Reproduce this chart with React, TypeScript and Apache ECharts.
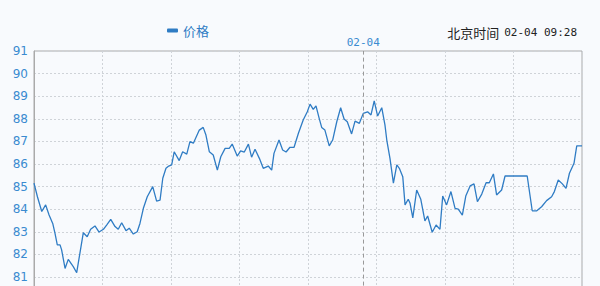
import React, { useEffect, useRef } from "react";
import * as echarts from "echarts";

// minutes since the first point (8 sections of 30)
const minutes = [
  0, 1.5, 3.4, 5.1, 6.6, 8.2, 9.2, 10.2, 11.4, 12.1, 13.6, 15.0, 17.2, 18.7, 20.1, 21.6, 23.3, 24.8, 26.7, 28.5,
  30.4, 31.8, 33.6, 35.5, 36.9, 38.4, 40.3, 41.7, 43.5, 45.2, 46.4, 47.9, 49.6, 52.0, 53.7, 55.2, 56.4, 57.8, 59.0, 60.3,
  61.4, 63.6, 65.1, 66.9, 68.3, 69.8, 72.4, 74.1, 75.3, 76.8, 78.5, 80.3, 81.8, 83.7, 85.5, 86.8, 89.0, 90.5, 92.1, 93.9,
  95.3, 96.8, 98.7, 100.4, 102.6, 104.1, 105.1, 107.3, 108.9, 110.4, 112.1, 113.9, 115.8, 117.9, 119.7, 120.9, 122.3, 123.5, 124.9, 126.0,
  127.4, 129.3, 130.8, 132.6, 134.3, 135.8, 137.2, 139.1, 140.6, 142.5, 144.2, 146.1, 147.6, 149.0, 150.5, 152.3, 153.7, 154.5, 155.9, 157.4,
  158.9, 160.0, 161.5, 162.5, 163.9, 164.7, 165.9, 167.6, 169.4, 171.2, 172.4, 174.4, 176.1, 177.8, 179.0, 180.7, 182.6, 184.4, 185.8, 187.6,
  189.1, 191.0, 192.7, 194.2, 196.1, 198.0, 199.4, 201.2, 202.6, 204.8, 206.3, 211.4, 216.0, 218.2, 220.2, 222.3, 224.5, 226.7, 227.9, 229.6,
  231.4, 233.0, 234.5, 236.5, 237.7, 240,
];

const prices = [
  85.15, 84.55, 83.9, 84.19, 83.74, 83.37, 82.93, 82.42, 82.42, 82.2, 81.38, 81.78, 81.46, 81.19, 82.05, 82.96, 82.78, 83.11, 83.26, 82.99,
  83.11, 83.3, 83.55, 83.23, 83.11, 83.4, 83.05, 83.16, 82.9, 83.0, 83.37, 84.04, 84.55, 85.0, 84.36, 84.4, 85.37, 85.81, 85.91, 85.96,
  86.54, 86.15, 86.54, 86.44, 86.99, 86.92, 87.5, 87.62, 87.28, 86.54, 86.4, 85.73, 86.32, 86.69, 86.69, 86.88, 86.35, 86.58, 86.53, 86.88,
  86.3, 86.65, 86.25, 85.81, 85.91, 85.73, 86.47, 87.06, 86.62, 86.53, 86.74, 86.74, 87.36, 87.95, 88.31, 88.65, 88.42, 88.57, 88.02, 87.62,
  87.5, 86.8, 87.06, 87.87, 88.49, 87.99, 87.87, 87.33, 87.9, 87.8, 88.24, 88.31, 88.17, 88.79, 88.12, 88.49, 87.73, 87.06, 86.25, 85.15,
  85.96, 85.81, 85.44, 84.19, 84.44, 84.26, 83.62, 84.85, 84.44, 83.48, 83.7, 82.98, 83.3, 83.11, 84.58, 84.19, 84.78, 84.04, 84.0, 83.74,
  84.58, 85.03, 85.12, 84.33, 84.67, 85.17, 85.17, 85.56, 84.63, 84.85, 85.47, 85.47, 85.47, 83.93, 83.93, 84.11, 84.38, 84.55, 84.78, 85.29,
  85.12, 84.92, 85.59, 86.03, 86.8, 86.8,
];

const dayBreak = 144.2;
const dayLabel = "02-04";
const seriesName = "价格";
const clockText = "02-04 09:28";

export default function App() {
  const ref = useRef<HTMLDivElement>(null);
  useEffect(() => {
    if (!ref.current) return;
    const chart = echarts.init(ref.current, undefined, { renderer: "svg" });
    const data = minutes.map((m, i) => [m, prices[i]]);
    chart.setOption({
      animation: false,
      backgroundColor: "#f8fafd",
      title: {
        text: "{a|北京时间} {b|" + clockText + "}",
        right: 18,
        top: 18,
        textStyle: {
          fontWeight: "normal",
          rich: {
            a: { fontFamily: "Noto Sans CJK SC", fontSize: 13, color: "#222", fontWeight: "normal" },
            b: { fontFamily: "DejaVu Sans Mono", fontSize: 11, color: "#222", fontWeight: "normal" },
          },
        },
      },
      legend: {
        left: 162,
        top: 19,
        icon: "roundRect",
        itemWidth: 11,
        itemHeight: 4,
        itemGap: 6,
        textStyle: { color: "#2f7cc4", fontSize: 13, fontFamily: "Noto Sans CJK SC" },
        data: [seriesName],
      },
      grid: { left: 34, right: 18, top: 51, bottom: 10.4, show: true, borderColor: "#aaaaaa", borderWidth: 1 },
      xAxis: {
        type: "value",
        min: 0,
        max: 240,
        interval: 30,
        axisLabel: { show: false },
        axisTick: { show: false },
        axisLine: { show: false },
        splitLine: { show: true, lineStyle: { color: "#cfd3d8", type: [2, 2], width: 1 } },
      },
      yAxis: {
        type: "value",
        min: 80,
        max: 91,
        interval: 1,
        axisLine: { show: true, lineStyle: { color: "#aaaaaa" } },
        axisTick: { show: false },
        axisLabel: { color: "#3a8bd0", fontSize: 12, fontFamily: "DejaVu Sans", margin: 6, showMinLabel: false },
        splitLine: { show: true, lineStyle: { color: "#cfd3d8", type: [2, 2], width: 1 } },
      },
      series: [
        {
          name: seriesName,
          type: "line",
          data,
          showSymbol: false,
          symbol: "none",
          color: "#2f7cc4",
          lineStyle: { color: "#2f7cc4", width: 1.3 },
          markLine: {
            silent: true,
            symbol: "none",
            lineStyle: { color: "#999999", type: [4, 3], width: 1 },
            label: {
              show: true,
              position: "end",
              formatter: dayLabel,
              color: "#3a8bd0",
              fontFamily: "DejaVu Sans Mono",
              fontSize: 11,
              distance: 3,
            },
            data: [{ xAxis: dayBreak }],
          },
        },
      ],
    });
    return () => chart.dispose();
  }, []);
  return (
    <div
      ref={ref}
      style={{ position: "fixed", left: 0, top: 0, width: 600, height: 310 }}
    />
  );
}
